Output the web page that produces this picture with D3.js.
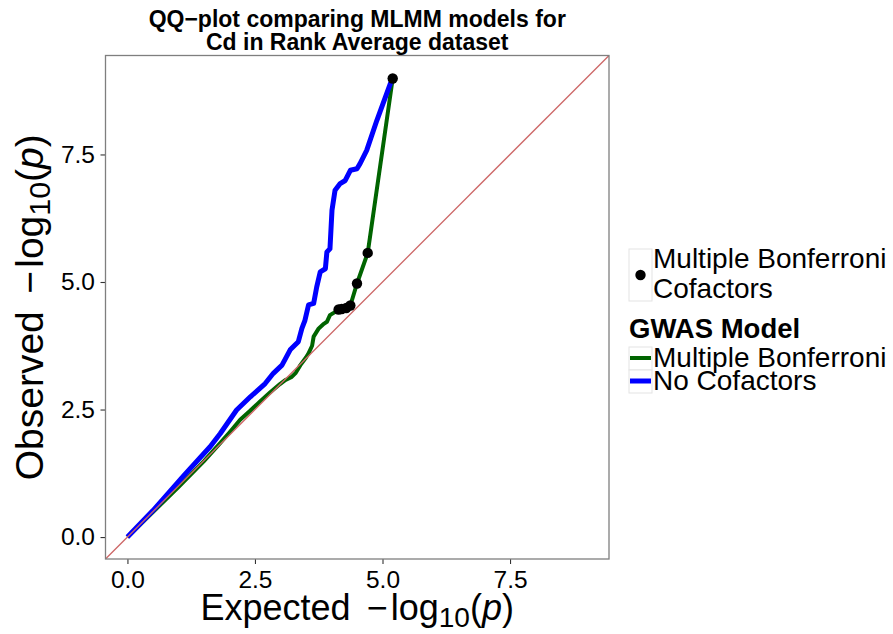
<!DOCTYPE html>
<html><head><meta charset="utf-8">
<script src="https://cdn.jsdelivr.net/npm/d3@7"></script>
<style>
body{margin:0;background:#fff}
text{font-family:"Liberation Sans",Arial,Helvetica,sans-serif}
</style>
</head><body>
<svg id="c" width="893" height="634"></svg>
<script>
// ---- data ----
const expectedMB = [0, 0.5, 1.0, 1.5, 1.8, 2.0, 2.21, 2.4, 2.6, 2.8, 2.99, 3.1, 3.22, 3.3, 3.39, 3.5, 3.55, 3.62, 3.65, 3.75, 3.85, 3.91, 3.97, 4.05, 4.14, 4.2, 4.29, 4.37, 4.50, 4.71, 5.20];
const observedMB = [0, 0.49, 0.98, 1.49, 1.82, 2.05, 2.30, 2.47, 2.66, 2.84, 3.00, 3.08, 3.14, 3.22, 3.37, 3.52, 3.60, 3.75, 3.93, 4.09, 4.18, 4.22, 4.35, 4.40, 4.46, 4.47, 4.49, 4.54, 4.97, 5.57, 8.99];
const expectedNC = [0, 0.5, 1.1, 1.62, 1.82, 2.14, 2.41, 2.70, 2.86, 3.03, 3.19, 3.35, 3.42, 3.48, 3.55, 3.65, 3.71, 3.78, 3.88, 3.91, 3.97, 4.01, 4.07, 4.17, 4.27, 4.37, 4.50, 4.56, 4.69, 4.89, 5.15, 5.20];
const observedNC = [0, 0.52, 1.20, 1.77, 2.03, 2.49, 2.75, 3.01, 3.21, 3.37, 3.67, 3.83, 4.09, 4.25, 4.55, 4.58, 4.90, 5.20, 5.26, 5.59, 5.65, 6.41, 6.80, 6.93, 6.99, 7.19, 7.22, 7.32, 7.58, 8.17, 8.88, 8.99];
const sigExpected = [4.14, 4.20, 4.29, 4.37, 4.50, 4.71, 5.20];
const sigObserved = [4.46, 4.47, 4.49, 4.54, 4.97, 5.57, 8.99];
const xTicks = [0, 2.5, 5.0, 7.5];
const yTicks = [0, 2.5, 5.0, 7.5];
const seriesNames = ["Multiple Bonferroni", "No Cofactors"];
const seriesColors = ["#006400", "#0000ff"];
const pointLegendLines = ["Multiple Bonferroni", "Cofactors"];
const legendTitle = "GWAS Model";
const titleLines = ["QQ\u2212plot comparing MLMM models for", "Cd in Rank Average dataset"];

// ---- layout ----
const svg = d3.select("#c");
const L = 105.5, R = 609, T = 55.5, B = 559;
const x = d3.scaleLinear().domain([-0.43, 9.44]).range([L, R]);
const y = d3.scaleLinear().domain([-0.43, 9.44]).range([B, T]);

svg.append("rect").attr("width", 893).attr("height", 634).attr("fill", "#fff");

svg.append("defs").append("clipPath").attr("id", "panel")
  .append("rect").attr("x", L).attr("y", T).attr("width", R - L).attr("height", B - T);

// axes
const xAxis = svg.append("g").attr("transform", `translate(0,${B})`)
  .call(d3.axisBottom(x).tickValues(xTicks).tickFormat(d3.format(".1f")).tickSize(5).tickPadding(7));
const yAxis = svg.append("g").attr("transform", `translate(${L},0)`)
  .call(d3.axisLeft(y).tickValues(yTicks).tickFormat(d3.format(".1f")).tickSize(5).tickPadding(5.5));
[xAxis, yAxis].forEach(g => {
  g.select(".domain").remove();
  g.selectAll(".tick line").attr("stroke", "#333").attr("stroke-width", 1.1);
  g.selectAll(".tick text").attr("fill", "#000").attr("font-size", 24.5)
    .attr("font-family", "'Liberation Sans',Arial,Helvetica,sans-serif");
});

const plot = svg.append("g").attr("clip-path", "url(#panel)");

const line = d3.line().x(d => x(d[0])).y(d => y(d[1]));
const mb = expectedMB.map((e, i) => [e, observedMB[i]]);
const nc = expectedNC.map((e, i) => [e, observedNC[i]]);

plot.append("path").datum(mb).attr("d", line).attr("fill", "none")
  .attr("stroke", seriesColors[0]).attr("stroke-width", 4).attr("stroke-linejoin", "round");
plot.append("path").datum(nc).attr("d", line).attr("fill", "none")
  .attr("stroke", seriesColors[1]).attr("stroke-width", 5).attr("stroke-linejoin", "round");

// y = x reference line
plot.append("line")
  .attr("x1", x(-1)).attr("y1", y(-1)).attr("x2", x(10)).attr("y2", y(10))
  .attr("stroke", "#cd6767").attr("stroke-width", 1.3);

plot.selectAll("circle.sig").data(sigExpected.map((e, i) => [e, sigObserved[i]]))
  .enter().append("circle").attr("class", "sig")
  .attr("cx", d => x(d[0])).attr("cy", d => y(d[1])).attr("r", 5.2).attr("fill", "#000");

// panel border
svg.append("rect").attr("x", L).attr("y", T).attr("width", R - L).attr("height", B - T)
  .attr("fill", "none").attr("stroke", "#7f7f7f").attr("stroke-width", 1.3);

// title
const cx = (L + R) / 2;
svg.append("text").attr("x", cx).attr("y", 27).attr("text-anchor", "middle")
  .attr("font-size", 23).attr("font-weight", "bold").text(titleLines[0]);
svg.append("text").attr("x", cx).attr("y", 50).attr("text-anchor", "middle")
  .attr("font-size", 23).attr("font-weight", "bold").text(titleLines[1]);

// axis titles
function axisTitle(sel, word) {
  sel.append("tspan").text(word);
  sel.append("tspan").attr("dx", "0.45em").text("\u2212");
  sel.append("tspan").attr("dx", "0.08em").text("log");
  sel.append("tspan").attr("font-size", "0.78em").attr("dy", "0.24em").text("10");
  sel.append("tspan").attr("dy", "-0.19em").text("(");
  sel.append("tspan").attr("font-style", "italic").text("p");
  sel.append("tspan").text(")");
}
const xt = svg.append("text").attr("x", cx).attr("y", 620).attr("text-anchor", "middle")
  .attr("font-size", 36).attr("fill", "#000");
axisTitle(xt, "Expected");
const yt = svg.append("text").attr("transform", `translate(43,${(T + B) / 2}) rotate(-90)`)
  .attr("text-anchor", "middle").attr("font-size", 39).attr("fill", "#000");
axisTitle(yt, "Observed");

// legend
const lg = svg.append("g");
const kx = 629, kw = 23;
lg.append("rect").attr("x", kx).attr("y", 249).attr("width", kw).attr("height", 52)
  .attr("fill", "#fff").attr("stroke", "#e3e3e3").attr("stroke-width", 1);
lg.append("circle").attr("cx", kx + kw / 2).attr("cy", 275).attr("r", 5.2).attr("fill", "#000");
lg.append("text").attr("x", 653).attr("y", 268).attr("font-size", 28).text(pointLegendLines[0]);
lg.append("text").attr("x", 653).attr("y", 298).attr("font-size", 28).text(pointLegendLines[1]);

lg.append("text").attr("x", 629).attr("y", 338).attr("font-size", 27.5).attr("font-weight", "bold").text(legendTitle);
seriesNames.forEach((name, i) => {
  const ky = 347 + i * 23;
  lg.append("rect").attr("x", kx).attr("y", ky).attr("width", kw).attr("height", 23)
    .attr("fill", "#fff").attr("stroke", "#e3e3e3").attr("stroke-width", 1);
  lg.append("line").attr("x1", kx + 1).attr("x2", kx + kw - 1).attr("y1", ky + 11).attr("y2", ky + 11)
    .attr("stroke", seriesColors[i]).attr("stroke-width", i === 0 ? 4 : 5);
  lg.append("text").attr("x", 653).attr("y", ky + 20).attr("font-size", 28).text(name);
});
</script>
</body></html>
